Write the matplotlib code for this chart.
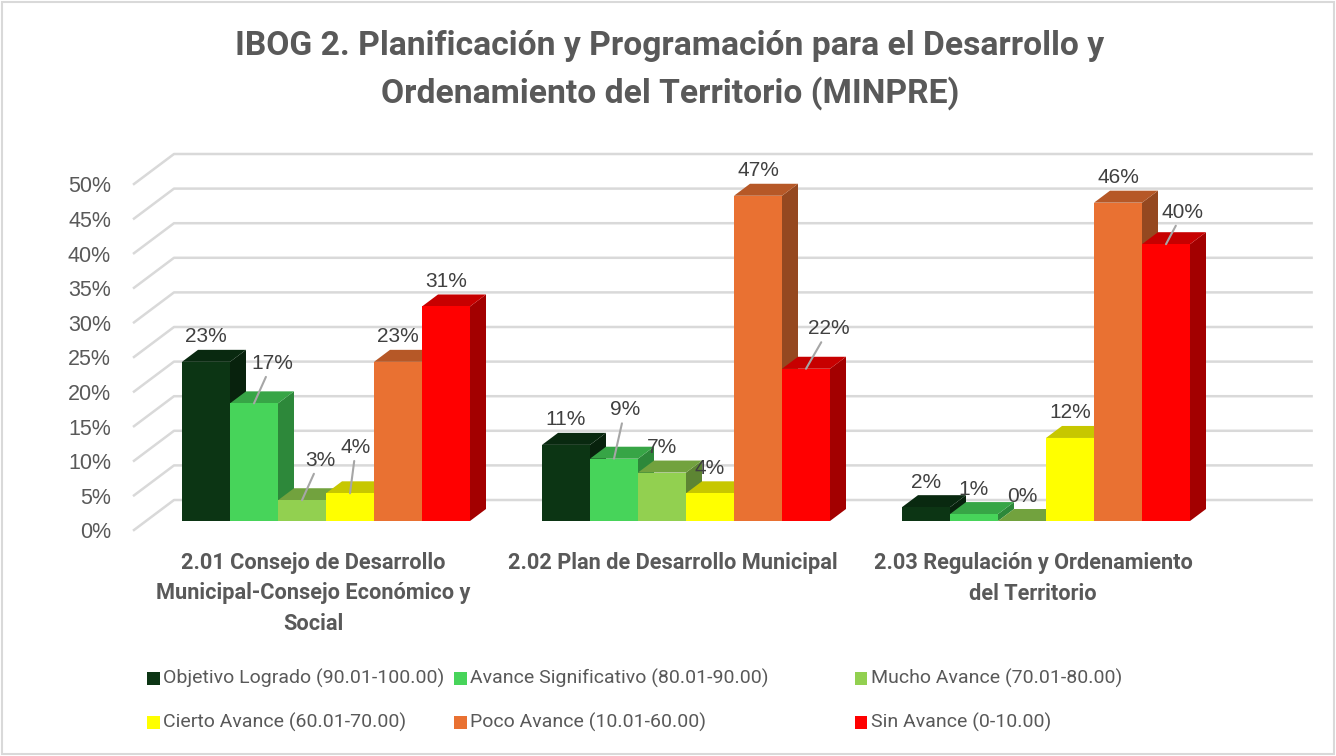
import numpy as np
import matplotlib.pyplot as plt
from matplotlib.patches import Polygon, Rectangle
from matplotlib.colors import to_rgb

categories = ["2.01 Consejo de Desarrollo\nMunicipal-Consejo Económico y\nSocial",
              "2.02 Plan de Desarrollo Municipal",
              "2.03 Regulación y Ordenamiento\ndel Territorio"]
series_names = ["Objetivo Logrado (90.01-100.00)", "Avance Significativo (80.01-90.00)",
                "Mucho Avance (70.01-80.00)", "Cierto Avance (60.01-70.00)",
                "Poco Avance (10.01-60.00)", "Sin Avance (0-10.00)"]
objetivo = [23, 11, 2]
significativo = [17, 9, 1]
mucho = [3, 7, 0]
cierto = [4, 4, 12]
poco = [23, 47, 46]
sin_avance = [31, 22, 40]
series = [objetivo, significativo, mucho, cierto, poco, sin_avance]
colors = ['#0C3514', '#47D45A', '#92D050', '#FFFF00', '#E97132', '#FF0000']
yticks = [0, 5, 10, 15, 20, 25, 30, 35, 40, 45, 50]

# labels that Excel pushed away from the bar (pixel shift, leader line drawn)
label_shift = {(1, 0): (18, -15), (2, 0): (18, -15), (3, 0): (6, -21),
               (1, 1): (11, -24), (5, 1): (23, -15), (5, 2): (17, -7)}

W, H = 1336, 756
fig = plt.figure(figsize=(W / 100, H / 100), dpi=100)
ax = fig.add_axes([146 / W, 235 / H, 1080 / W, 346 / H])
ax.set_xlim(-0.5, 2.5)
ax.set_ylim(0, 50)
ax.axis('off')

# depth of the fake 3D in data units
p0 = ax.transData.transform((0, 0))
p1 = ax.transData.transform((1, 1))
ddx = 16 / (p1[0] - p0[0])
ddy = 12 / (p1[1] - p0[1])

grid_c = '#D9D9D9'
text_c = '#595959'
x_right = 2.66 + 1.75 * ddx
for v in yticks:
    ax.plot([-0.5 - 0.75 * ddx, -0.5 + 1.75 * ddx, x_right],
            [v - 0.75 * ddy, v + 1.75 * ddy, v + 1.75 * ddy],
            color=grid_c, lw=1.8, clip_on=False, zorder=1)
    ax.annotate(f"{v}%", xy=(-0.5, v), xytext=(-35, -12), textcoords='offset pixels',
                ha='right', va='center', fontsize=15.5, color=text_c,
                family='Liberation Sans')

def shade(c, f):
    r, g, b = to_rgb(c)
    return (r * f, g * f, b * f)

w = 48 / 360
z = 2
for c in range(len(categories)):
    for i, vals in enumerate(series):
        xc = c + (i - 2.5) * w
        x0, x1 = xc - w / 2, xc + w / 2
        h = vals[c]
        col = colors[i]
        side = Polygon([(x1, 0), (x1, h), (x1 + ddx, h + ddy), (x1 + ddx, ddy)],
                       closed=True, fc=shade(col, 0.64), ec='none', zorder=z, clip_on=False)
        top = Polygon([(x0, h), (x1, h), (x1 + ddx, h + ddy), (x0 + ddx, h + ddy)],
                      closed=True, fc=shade(col, 0.78), ec='none', zorder=z + 1, clip_on=False)
        ax.add_patch(side)
        ax.add_patch(top)
        ax.bar(xc, h, width=w, color=col, zorder=z + 2, clip_on=False,
               label=series_names[i] if c == 0 else None)
        z += 3

        dx, dy = label_shift.get((i, c), (0, 0))
        if (i, c) in label_shift:
            ax.annotate(f"{h}%", xy=(xc, h), xytext=(dx, 25 - dy), textcoords='offset pixels',
                        ha='center', va='center', fontsize=15, color='#404040',
                        family='Liberation Sans', zorder=100,
                        arrowprops=dict(arrowstyle='-', color='#A6A6A6', lw=1.5,
                                        shrinkA=1, shrinkB=0))
        else:
            ax.annotate(f"{h}%", xy=(xc, h), xytext=(0, 25), textcoords='offset pixels',
                        ha='center', va='center', fontsize=15, color='#404040',
                        family='Liberation Sans', zorder=100)

for c, cat in enumerate(categories):
    ax.annotate(cat, xy=(c, 0), xytext=(-13, -31), textcoords='offset pixels',
                ha='center', va='top', fontsize=15.7, fontweight='bold', color=text_c,
                family='Roboto', linespacing=1.5)

fig.text(670 / W, 1 - 70 / H,
         "IBOG 2. Planificación y Programación para el Desarrollo y\nOrdenamiento del Territorio (MINPRE)",
         ha='center', va='center', fontsize=24.2, fontweight='bold', color=text_c,
         family='Roboto', linespacing=1.5)

# legend, two rows as in the original (narrow font in Excel -> fit size to its width)
leg_cols = [147, 454, 855]
leg_rows = [678, 722]
order = [(0, 0), (0, 1), (0, 2), (1, 0), (1, 1), (1, 2)]
renderer = fig.canvas.get_renderer()
probe = fig.text(0, 0, series_names[0], fontsize=15, family='Roboto')
leg_fs = 15 * 280 / probe.get_window_extent(renderer).width
probe.remove()
for i, (r, k) in enumerate(order):
    xm, ym = leg_cols[k], leg_rows[r]
    fig.patches.append(Rectangle((xm / W, 1 - (ym + 6.5) / H), 12.5 / W, 13 / H,
                                 transform=fig.transFigure, fc=colors[i], ec='none'))
    fig.text((xm + 16) / W, 1 - ym / H, series_names[i], ha='left', va='center',
             fontsize=leg_fs, color=text_c, family='Roboto')

fig.patches.append(Rectangle((2 / W, 2 / H), 1 - 4 / W, 1 - 4 / H, transform=fig.transFigure,
                             fc='none', ec='#D9D9D9', lw=1.5))

fig.savefig('out.png', dpi=100)
